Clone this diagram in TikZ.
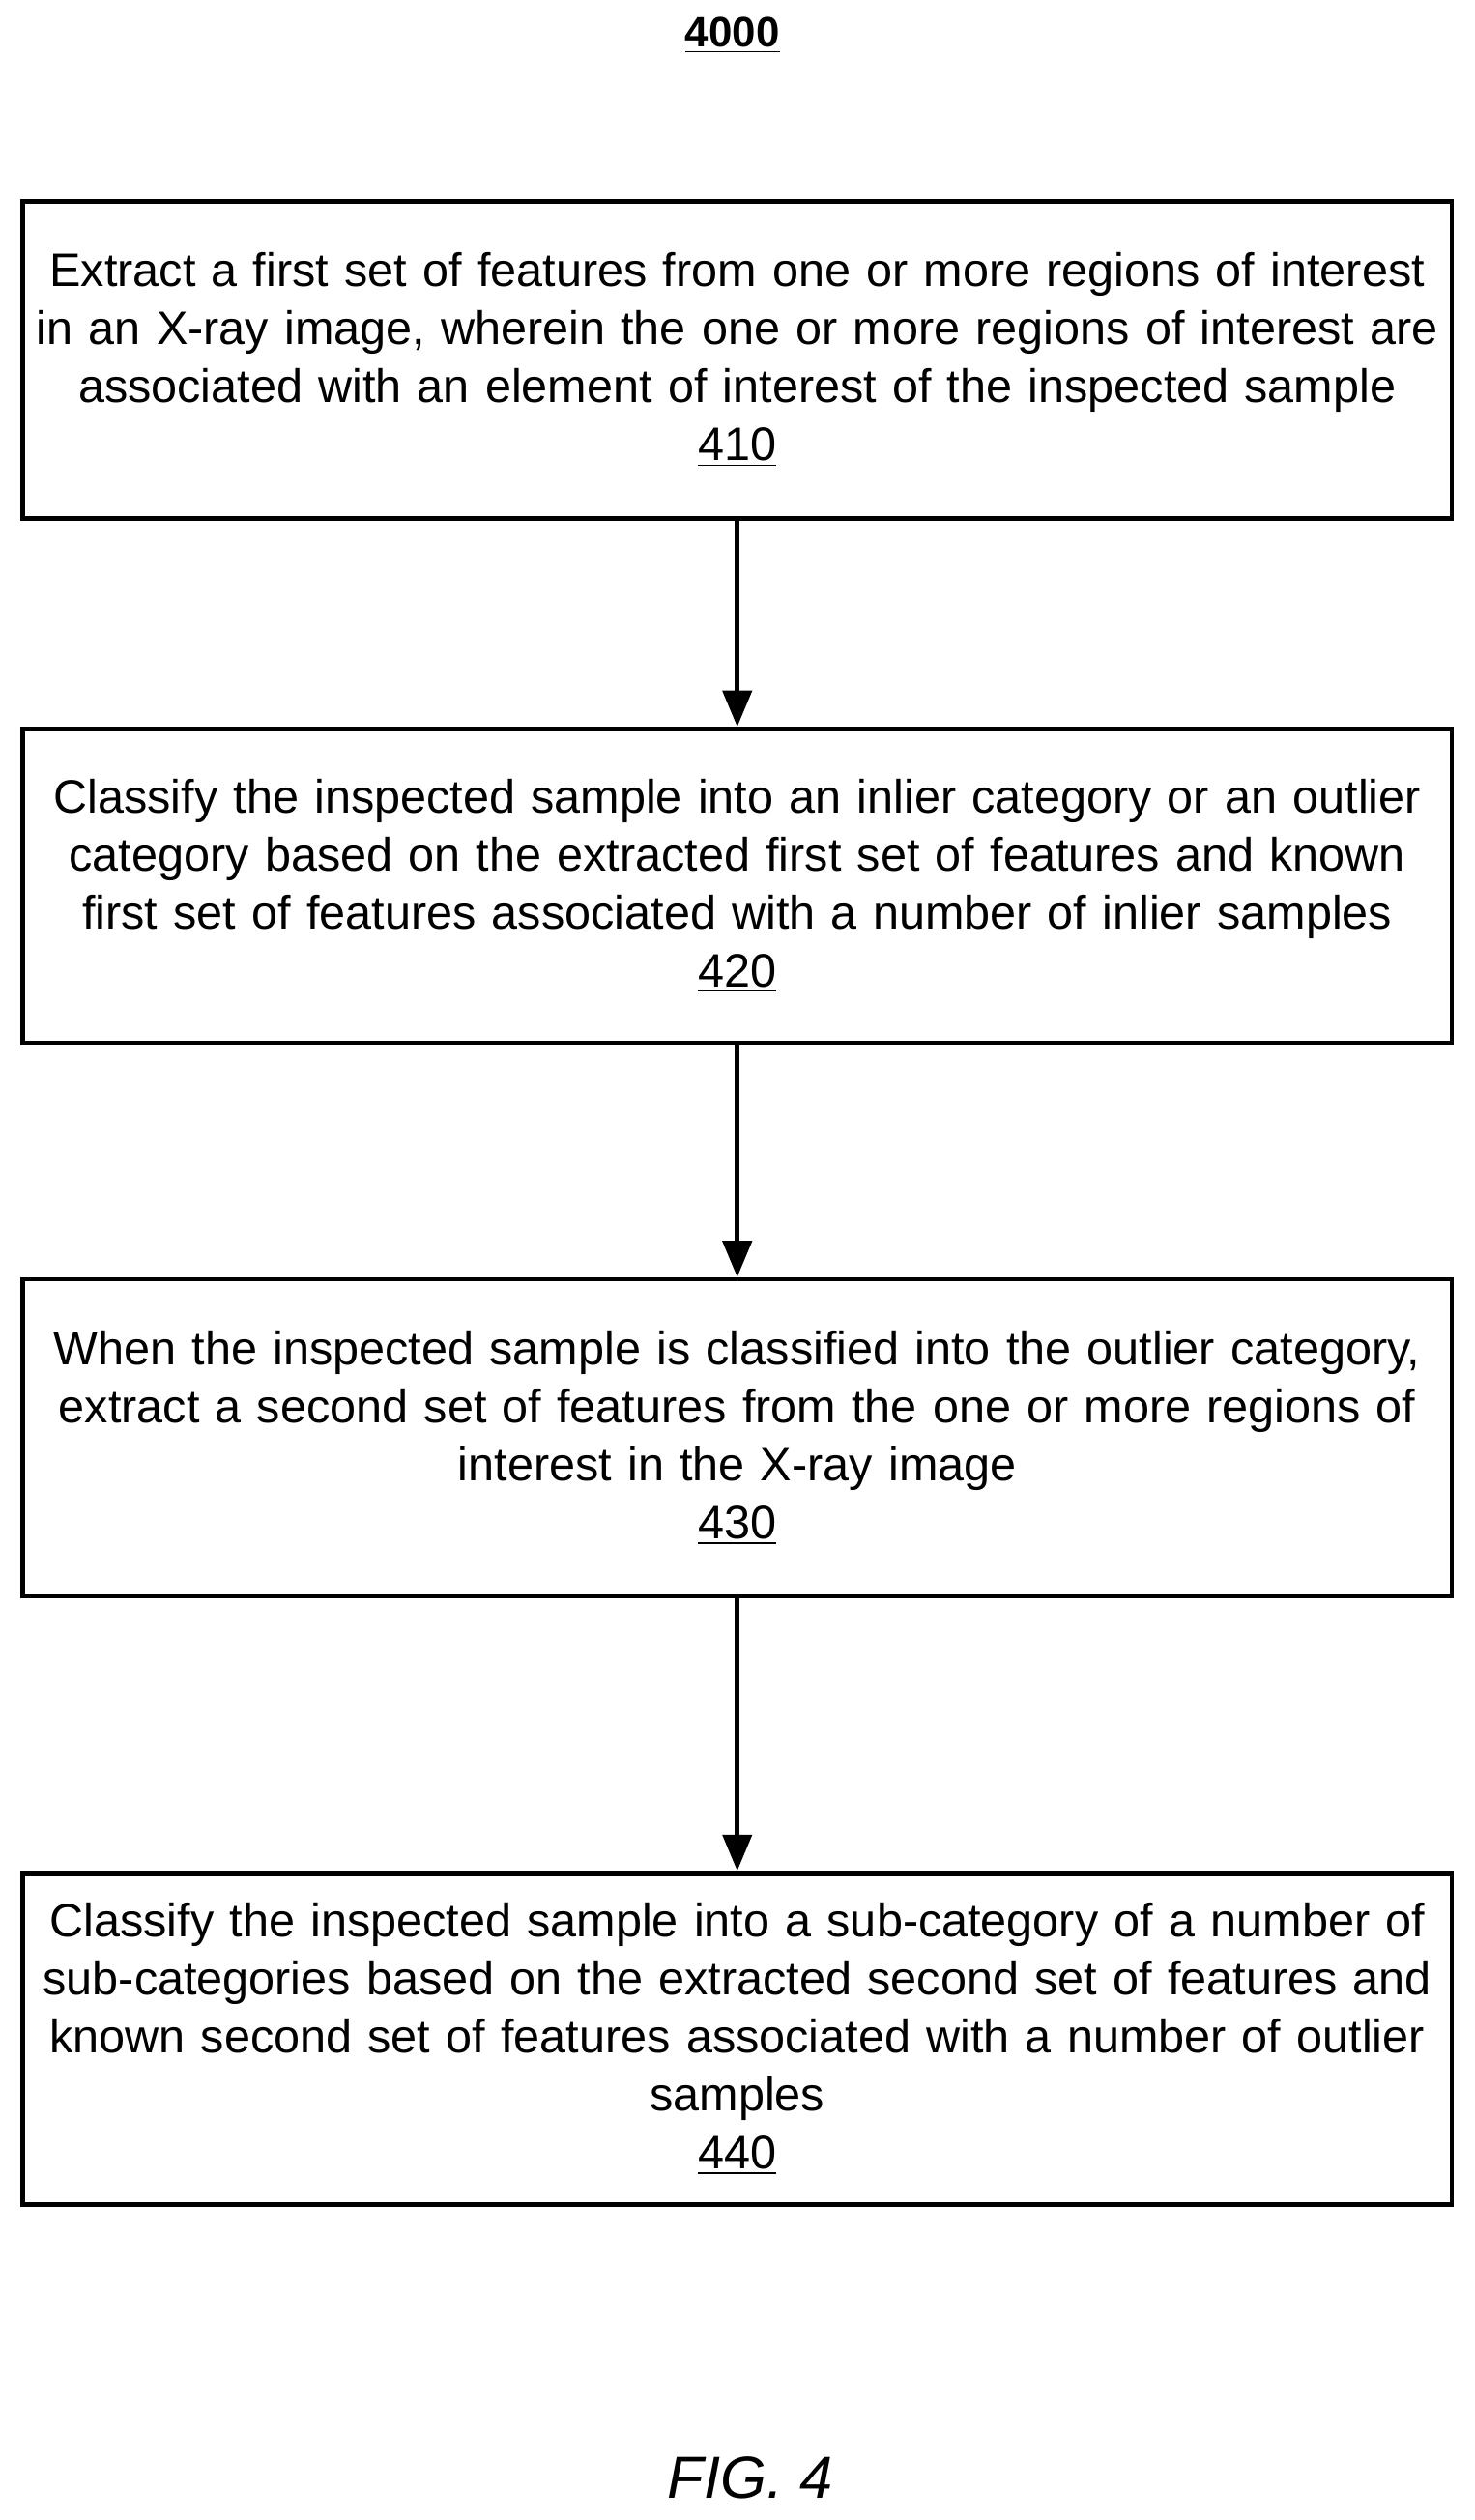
\documentclass[tikz,border=0pt]{standalone}
\usepackage{fontspec}
\setmainfont{Liberation Sans}
\usetikzlibrary{arrows.meta}
\begin{document}
\begin{tikzpicture}[x=0.02cm,y=-0.02cm]
\tikzstyle{stepbox}=[draw=black,line width=1.6pt,minimum width=17.76cm,text width=17.6cm,align=center,font=\fontsize{16.6}{20.5}\selectfont,inner sep=0pt]
\tikzstyle{flow}=[line width=1.6pt,-{Triangle[length=0.45cm,width=0.36cm]}]
\useasboundingbox (0,0) rectangle (916,1566);
\node (title) at (455,22) {\fontsize{15}{16}\selectfont\bfseries\underline{4000}};
\node [stepbox,minimum height=3.94cm] (s410) at (458,223.5) {Extract a first set of features from one or more regions of interest\\in an X-ray image, wherein the one or more regions of interest are\\associated with an element of interest of the inspected sample\\\underline{410}};
\node [stepbox,minimum height=3.9cm] (s420) at (458,550.5) {Classify the inspected sample into an inlier category or an outlier\\category based on the extracted first set of features and known\\first set of features associated with a number of inlier samples\\\underline{420}};
\node [stepbox,minimum height=3.94cm] (s430) at (458,893.5) {When the inspected sample is classified into the outlier category,\\extract a second set of features from the one or more regions of\\interest in the X-ray image\\\underline{430}};
\node [stepbox,minimum height=4.12cm] (s440) at (458,1267) {Classify the inspected sample into a sub-category of a number of\\sub-categories based on the extracted second set of features and\\known second set of features associated with a number of outlier\\samples\\\underline{440}};
\node (fig) at (466,1540) {\fontsize{21}{24}\selectfont\itshape FIG. 4};
\draw [flow] (s410) -- (s420);
\draw [flow] (s420) -- (s430);
\draw [flow] (s430) -- (s440);
\end{tikzpicture}
\end{document}
